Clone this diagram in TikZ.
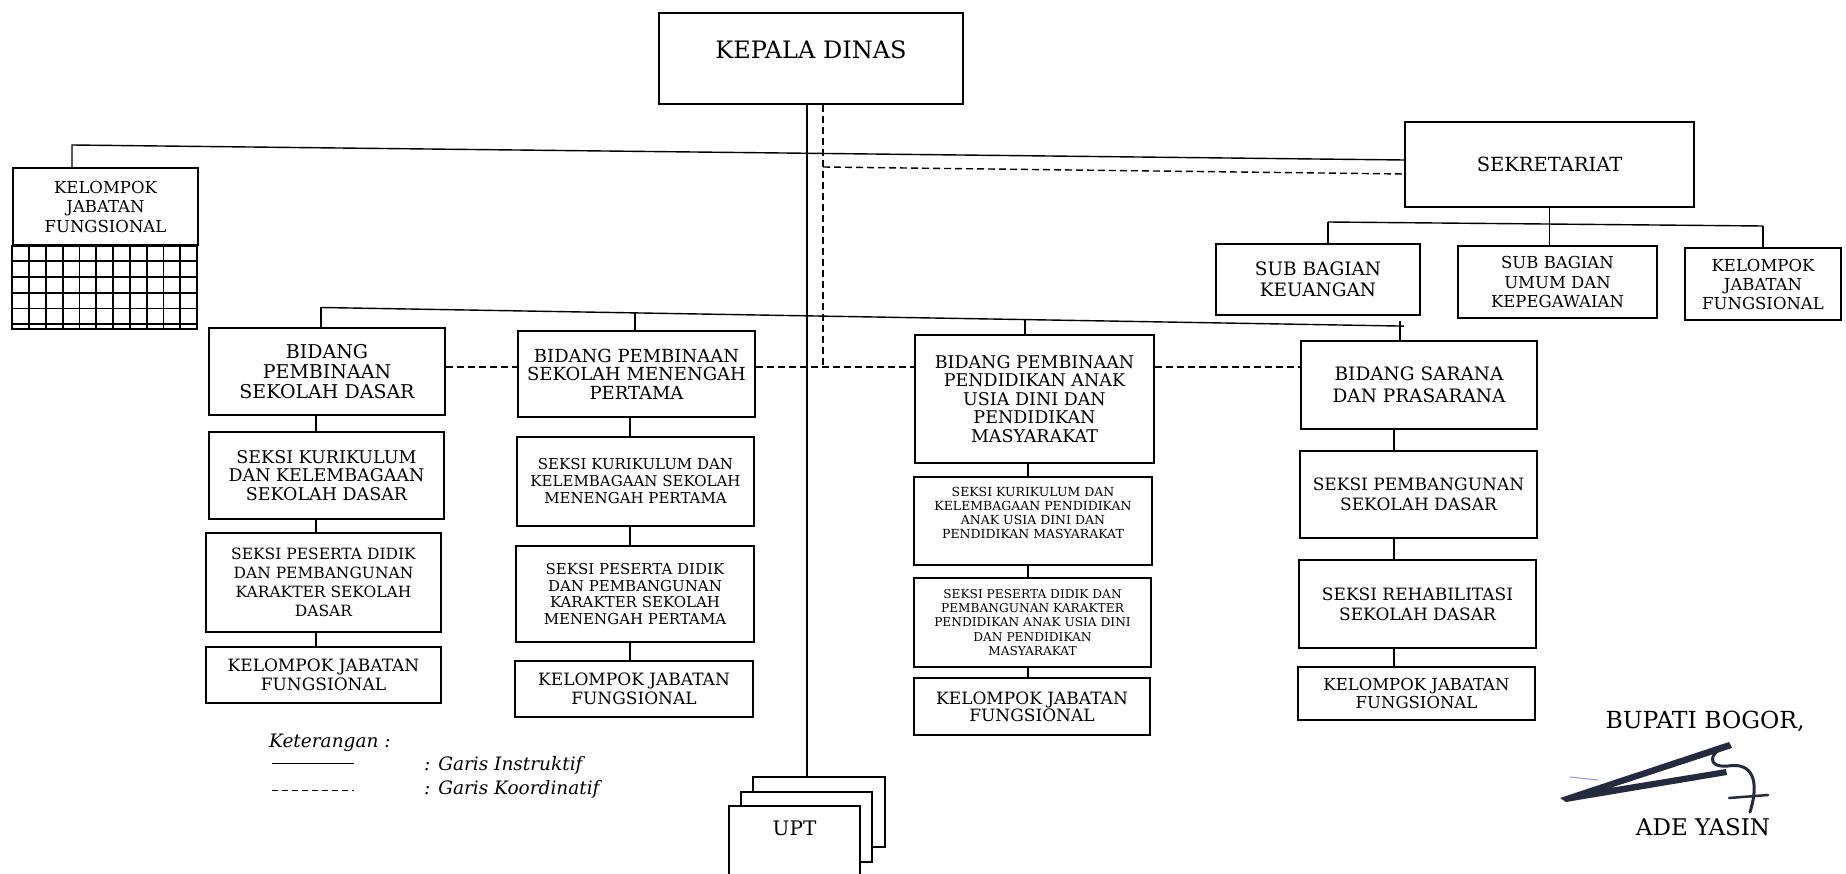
\documentclass[tikz,border=0pt]{standalone}
\usepackage{fontspec}
\setmainfont{DejaVu Serif}
\usepackage{tikz}
\definecolor{tinta}{RGB}{36,42,64}
\newcommand{\fs}[2]{\fontsize{#1}{#2}\selectfont}

\begin{document}
\begin{tikzpicture}[x=1pt, y=-1pt,
    kotak/.style={draw, line width=1.4pt, align=center, inner sep=1pt, fill=white},
    instr/.style={line width=1.4pt},
    koord/.style={line width=1.4pt, dash pattern=on 7pt off 4pt},
    kisi/.style={line width=1.8pt},
    ttd/.style={tinta, line width=3pt, line cap=round, line join=round}]

    % Marco de la hoja
    \useasboundingbox (0,0) rectangle (1846,874);
    \clip (0,0) rectangle (1846,874);
    \fill[white] (0,0) rectangle (1846,874);

    % Puntos de las lineas
    \coordinate (kx) at (807,0);
    \coordinate (tl) at (72,145);
    \coordinate (dk) at (823,167);
    \coordinate (kd) at (0,367);
    \coordinate (sbl) at (0,222);
    \coordinate (sbr) at (0,226);
    \coordinate (dsd) at (321,307.5);
    \coordinate (dsmp) at (635,313);
    \coordinate (dpaud) at (1025,319);
    \coordinate (dsar) at (1400,326);
    \coordinate (csd) at (316,0);
    \coordinate (csmp) at (630,0);
    \coordinate (cpaud) at (1028,0);
    \coordinate (csar) at (1394,0);

    % Kepala dinas y sekretariat
    \node[kotak, minimum width=304pt, minimum height=91pt, text depth=17pt, font=\fs{24}{29}] (kadis) at (811,58.5) {KEPALA DINAS};
    \node[kotak, minimum width=289pt, minimum height=85pt, font=\fs{19.5}{24}] (sekre) at (1549.5,164.5) {SEKRETARIAT};
    \node[kotak, minimum width=204pt, minimum height=71pt, font=\fs{18.5}{21.5}] (sbkeu) at (1318,279.5) {SUB BAGIAN\\KEUANGAN};
    \node[kotak, minimum width=199pt, minimum height=72pt, font=\fs{16.5}{19.5}] (sbumum) at (1557.5,282) {SUB BAGIAN\\UMUM DAN\\KEPEGAWAIAN};
    \node[kotak, minimum width=156pt, minimum height=72pt, font=\fs{16.5}{19}] (kjfsek) at (1763,284) {KELOMPOK\\JABATAN\\FUNGSIONAL};
    \node[kotak, minimum width=185pt, minimum height=77pt, font=\fs{16.5}{19.5}] (kjfkiri) at (105.5,206.5) {KELOMPOK\\JABATAN\\FUNGSIONAL};

    % Rejilla bajo el grupo funcional
    \draw[kisi] (kjfkiri.south west) rectangle ++(185,83);
    \foreach \i in {1,...,10}
        \draw[kisi] ([xshift=\i*16.8pt]kjfkiri.south west) -- ++(0,83);
    \foreach \j in {1,...,5}
        \draw[kisi] ([yshift=-\j*15.7pt]kjfkiri.south west) -- ++(185,0);

    % Bidang
    \node[kotak, minimum width=236pt, minimum height=87pt, font=\fs{19}{20}] (bsd) at (327,371.5) {BIDANG\\PEMBINAAN\\SEKOLAH DASAR};
    \node[kotak, minimum width=237pt, minimum height=86pt, font=\fs{18}{18.5}] (bsmp) at (636.5,374) {BIDANG PEMBINAAN\\SEKOLAH MENENGAH\\PERTAMA};
    \node[kotak, minimum width=239pt, minimum height=128pt, font=\fs{17.5}{18.5}] (bpaud) at (1034.5,399) {BIDANG PEMBINAAN\\PENDIDIKAN ANAK\\USIA DINI DAN\\PENDIDIKAN\\MASYARAKAT};
    \node[kotak, minimum width=236pt, minimum height=88pt, font=\fs{18.5}{22}] (bsar) at (1419,385) {BIDANG SARANA\\DAN PRASARANA};

    % Seksi sekolah dasar
    \node[kotak, minimum width=235pt, minimum height=87pt, font=\fs{17.5}{18.5}] (sdkur) at (326.5,475.5) {SEKSI KURIKULUM\\DAN KELEMBAGAAN\\SEKOLAH DASAR};
    \node[kotak, minimum width=235pt, minimum height=99pt, font=\fs{15.5}{19}] (sdpes) at (323.5,582.5) {SEKSI PESERTA DIDIK\\DAN PEMBANGUNAN\\KARAKTER SEKOLAH\\DASAR};
    \node[kotak, minimum width=235pt, minimum height=56pt, font=\fs{17}{19}] (sdkjf) at (323.5,675) {KELOMPOK JABATAN\\FUNGSIONAL};

    % Seksi sekolah menengah pertama
    \node[kotak, minimum width=237pt, minimum height=89pt, font=\fs{15}{17}] (smpkur) at (635.5,481.5) {SEKSI KURIKULUM DAN\\KELEMBAGAAN SEKOLAH\\MENENGAH PERTAMA};
    \node[kotak, minimum width=238pt, minimum height=96pt, font=\fs{15}{16.5}] (smppes) at (635,594) {SEKSI PESERTA DIDIK\\DAN PEMBANGUNAN\\KARAKTER SEKOLAH\\MENENGAH PERTAMA};
    \node[kotak, minimum width=238pt, minimum height=56pt, font=\fs{17}{19}] (smpkjf) at (634,689) {KELOMPOK JABATAN\\FUNGSIONAL};

    % Seksi PAUD dan masyarakat
    \node[kotak, minimum width=238pt, minimum height=88pt, text depth=16pt, font=\fs{12.5}{14}] (paudkur) at (1033,521) {SEKSI KURIKULUM DAN\\KELEMBAGAAN PENDIDIKAN\\ANAK USIA DINI DAN\\PENDIDIKAN MASYARAKAT};
    \node[kotak, minimum width=237pt, minimum height=89pt, font=\fs{12.2}{14.3}] (paudpes) at (1032.5,622.5) {SEKSI PESERTA DIDIK DAN\\PEMBANGUNAN KARAKTER\\PENDIDIKAN ANAK USIA DINI\\DAN PENDIDIKAN\\MASYARAKAT};
    \node[kotak, minimum width=236pt, minimum height=57pt, font=\fs{17}{17}] (paudkjf) at (1032,706.5) {KELOMPOK JABATAN\\FUNGSIONAL};

    % Seksi sarana
    \node[kotak, minimum width=237pt, minimum height=87pt, font=\fs{17}{20}] (sarpem) at (1418.5,494.5) {SEKSI PEMBANGUNAN\\SEKOLAH DASAR};
    \node[kotak, minimum width=237pt, minimum height=88pt, font=\fs{17}{20}] (sarreh) at (1417.5,604) {SEKSI REHABILITASI\\SEKOLAH DASAR};
    \node[kotak, minimum width=237pt, minimum height=53pt, font=\fs{16.5}{18}] (sarkjf) at (1416.5,693.5) {KELOMPOK JABATAN\\FUNGSIONAL};

    % UPT
    \node[kotak, minimum width=132pt, minimum height=70pt] (upta) at (819,812) {};
    \node[kotak, minimum width=131pt, minimum height=70pt] (uptb) at (806.5,827) {};
    \node[kotak, minimum width=131pt, minimum height=70pt, text depth=26pt, font=\fs{20}{24}] (upt) at (794.5,841) {UPT};

    % Garis instruktif
    \draw[instr] (kadis.south -| kx) -- (upta.north -| kx);
    \draw[instr] (tl |- kjfkiri.north) -- (tl) -- ([yshift=4.5pt]sekre.west);
    \draw[instr] (sekre.south) -- (sekre.south |- sbl);
    \draw[instr] ([xshift=10pt]sbkeu.north |- sbl) -- (kjfsek.north |- sbr);
    \draw[instr] ([xshift=10pt]sbkeu.north |- sbl) -- ([xshift=10pt]sbkeu.north);
    \draw[instr] (sbumum.north -| sekre.south) -- (sekre.south |- sbl);
    \draw[instr] (kjfsek.north |- sbr) -- (kjfsek.north);
    \draw[instr] (dsd) -- ([xshift=4pt,yshift=-0.1pt]dsar);
    \draw[instr] (dsd) -- (dsd |- bsd.north);
    \draw[instr] (dsmp) -- (dsmp |- bsmp.north);
    \draw[instr] (dpaud) -- (dpaud |- bpaud.north);
    \draw[instr] ([yshift=5pt]dsar) -- (dsar |- bsar.north);
    \foreach \a/\b/\c in {bsd/sdkur/csd, sdkur/sdpes/csd, sdpes/sdkjf/csd,
        bsmp/smpkur/csmp, smpkur/smppes/csmp, smppes/smpkjf/csmp,
        bpaud/paudkur/cpaud, paudkur/paudpes/cpaud, paudpes/paudkjf/cpaud,
        bsar/sarpem/csar, sarpem/sarreh/csar, sarreh/sarkjf/csar}
        \draw[instr] (\a.south -| \c) -- (\b.north -| \c);

    % Garis koordinatif
    \draw[koord] (kadis.south -| dk) -- (dk |- kd);
    \draw[koord] (dk) -- ([yshift=-9.5pt]sekre.west);
    \draw[koord] (bsd.east |- kd) -- (bsmp.west |- kd);
    \draw[koord] (bsmp.east |- kd) -- (bpaud.west |- kd);
    \draw[koord] (bpaud.east |- kd) -- (bsar.west |- kd);

    % Keterangan
    \node[anchor=west, inner sep=0pt, font=\itshape\fs{18.5}{22}] (ket) at (269,743) {Keterangan :};
    \draw[line width=1pt] (272,763) -- (354,763);
    \draw[line width=1pt, dash pattern=on 6pt off 4pt] (272,790) -- (354,790);
    \node[anchor=west, inner sep=0pt, font=\itshape\fs{18.5}{22}] (gi) at (424,765) {: Garis Instruktif};
    \node[anchor=west, inner sep=0pt, font=\itshape\fs{18.5}{22}] (gk) at (424,789) {: Garis Koordinatif};

    % Tanda tangan
    \node[anchor=base, inner sep=0pt, font=\fs{23.5}{27}] (bupati) at (1705,728) {BUPATI BOGOR,};
    \fill[tinta] (1560,798) -- (1729,742) -- (1732,748) -- (1610,788) -- (1726,769) -- (1727,775) -- (1566,802) -- cycle;
    \draw[ttd] (1729,745) .. controls (1708,752) and (1706,768) .. (1728,766) .. controls (1752,762) and (1760,780) .. (1750,812);
    \draw[ttd, line width=2.5pt] (1729,798) -- (1768,795);
    \draw[blue!45, line width=1pt] (1570,777) -- (1598,780);
    \node[anchor=base, inner sep=0pt, font=\fs{23}{27}] (ade) at (1703,835) {ADE YASIN};
\end{tikzpicture}
\end{document}
